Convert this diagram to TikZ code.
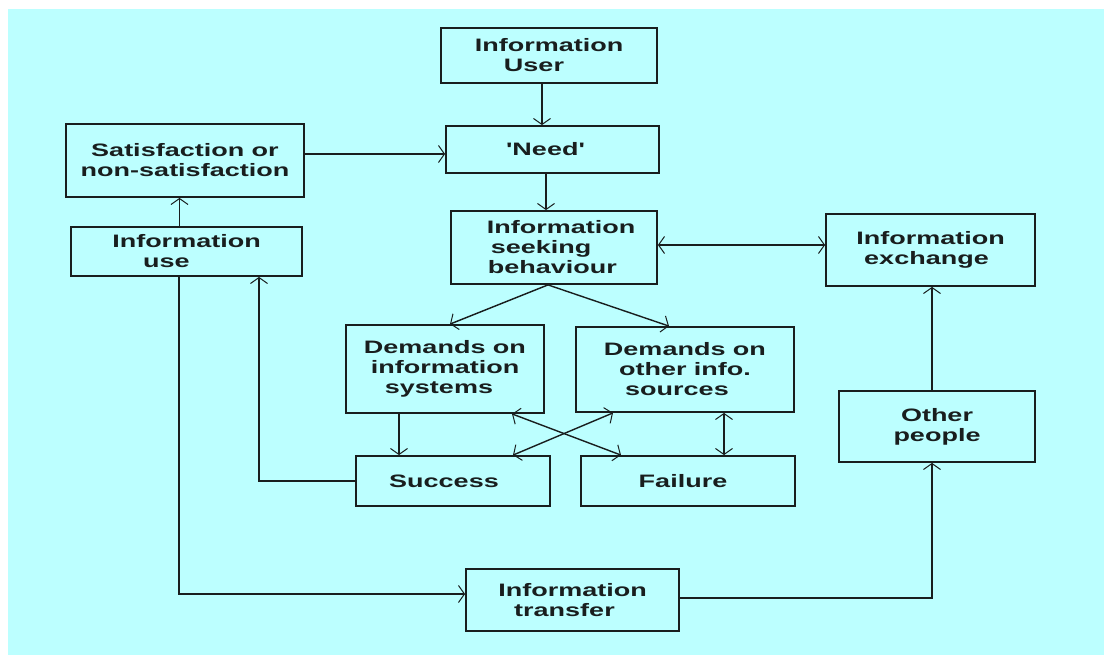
\documentclass[tikz,border=0pt]{standalone}
\usepackage{fontspec}
\newfontfamily\diafont{Liberation Sans}[FakeStretch=1.5]
\usetikzlibrary{arrows.meta}
\definecolor{bgcyan}{RGB}{188,255,255}
\definecolor{ink}{RGB}{25,30,30}
\tikzset{
  box/.style={draw=ink, line width=1.8pt, rectangle, inner sep=0pt, align=center,
    text=ink, font=\diafont\bfseries\fontsize{18}{20}\selectfont},
  conn/.style={draw=ink, line width=1.4pt, -{Straight Barb[length=6pt,width=17pt,line width=1pt]}},
  biconn/.style={draw=ink, line width=1.4pt, {Straight Barb[length=6pt,width=17pt,line width=1pt]}-{Straight Barb[length=6pt,width=17pt,line width=1pt]}},
  plain/.style={draw=ink, line width=1.4pt}
}
\begin{document}
\begin{tikzpicture}[x=1pt,y=-1pt]
\useasboundingbox (0,0) rectangle (1104,655);
\fill[white] (0,0) rectangle (1104,655);
\fill[bgcyan] (8,9) rectangle (1104,655);

\node[box, minimum width=216pt, minimum height=55pt] (user) at (549,55.5) {Information\\User\hspace*{30pt}};
\node[box, minimum width=213pt, minimum height=47pt] (need) at (552.5,149.5) {'Need'\hspace*{14pt}};
\node[box, minimum width=206pt, minimum height=73pt, align=left] (seek) at (554,247.5) {\hspace*{14pt}Information\\\hspace*{18pt}seeking\\\hspace*{15pt}behaviour};
\node[box, minimum width=238pt, minimum height=73pt] (sat) at (185,160.5) {Satisfaction or\\non-satisfaction};
\node[box, minimum width=231pt, minimum height=49pt] (use) at (186.5,251.5) {Information\\use\hspace*{40pt}};
\node[box, minimum width=198pt, minimum height=88pt] (dsys) at (445,369) {Demands on\\information\\systems\hspace*{12pt}};
\node[box, minimum width=218pt, minimum height=85pt] (doth) at (685,369.5) {Demands on\\other info.\\sources\hspace*{16pt}};
\node[box, minimum width=194pt, minimum height=50pt] (succ) at (453,481) {Success\hspace*{18pt}};
\node[box, minimum width=214pt, minimum height=50pt] (fail) at (688,481) {Failure\hspace*{10pt}};
\node[box, minimum width=209pt, minimum height=72pt] (exch) at (930.5,250) {Information\\exchange\hspace*{8pt}};
\node[box, minimum width=196pt, minimum height=71pt] (other) at (937,426.5) {Other\\people};
\node[box, minimum width=213pt, minimum height=62pt] (trans) at (572.5,600) {Information\\transfer\hspace*{16pt}};

% vertical chain
\draw[conn] ([xshift=-7pt]user.south) -- ([xshift=-7pt]user.south |- need.north);
\draw[conn] ([xshift=-6.5pt]need.south) -- ([xshift=-6.5pt]need.south |- seek.north);
% satisfaction -> need
\draw[conn] ([yshift=6.5pt]sat.east) -- ([yshift=6.5pt]sat.east -| need.west);
% use -> satisfaction
\draw[conn] ([xshift=-7pt]use.north) -- ([xshift=-7pt]use.north |- sat.south);
% seeking <-> exchange
\draw[biconn] ([yshift=2.5pt]seek.east) -- ([yshift=2.5pt]seek.east -| exch.west);
% seeking -> demands
\draw[conn] ([xshift=-6pt]seek.south) -- ([xshift=5pt]dsys.north);
\draw[conn] ([xshift=-6pt]seek.south) -- ([xshift=-16pt]doth.north);
% demands -> outcomes
\draw[conn] ([xshift=-46pt]dsys.south) -- ([xshift=-46pt]dsys.south |- succ.north);
\draw[biconn] ([xshift=39pt]doth.south) -- ([xshift=39pt]doth.south |- fail.north);
\draw[biconn] ([xshift=60pt]succ.north) -- ([xshift=-72pt]doth.south);
\draw[biconn] ([xshift=-67pt]fail.north) -- ([xshift=67pt]dsys.south);
% success -> use
\draw[conn] (succ.west) -| ([xshift=72.5pt]use.south);
% use -> transfer
\draw[conn] ([xshift=-7.5pt]use.south) |- ([yshift=6pt]trans.west);
% transfer -> other people
\draw[conn] ([yshift=2pt]trans.east) -| ([xshift=-5pt]other.south);
% other people -> exchange
\draw[conn] ([xshift=-5pt]other.north) -- ([xshift=-5pt]other.north |- exch.south);
\end{tikzpicture}
\end{document}
